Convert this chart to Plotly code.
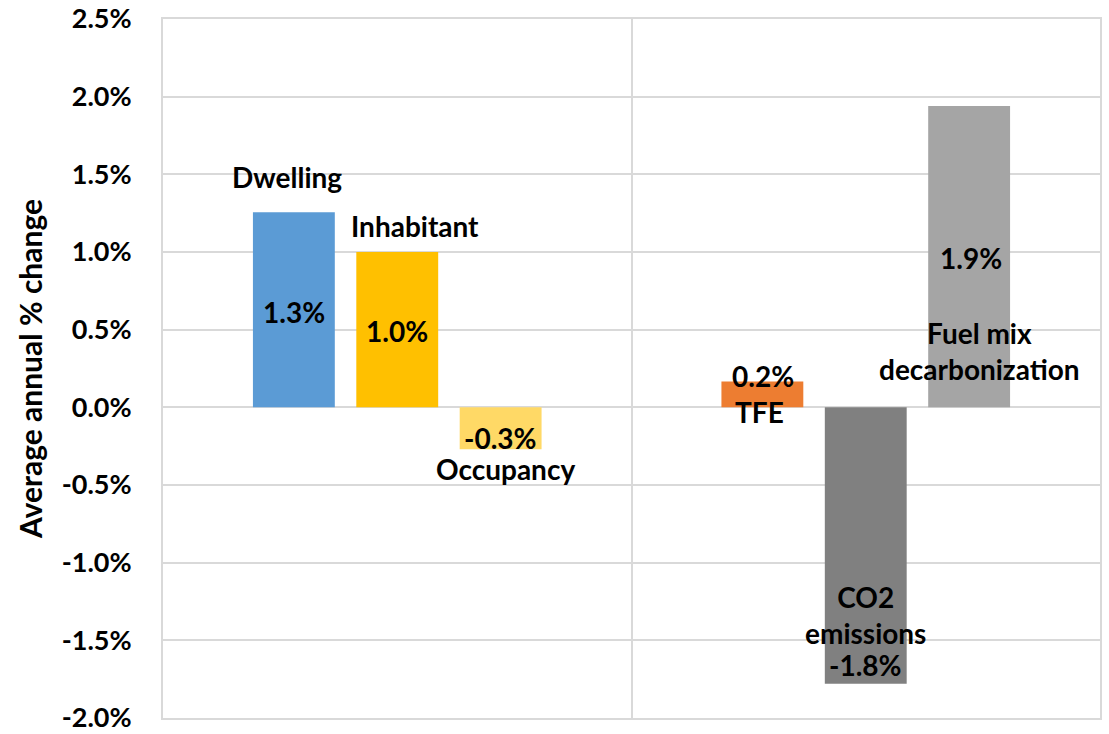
import plotly.graph_objects as go

# Data (fractions)
groups = ["Activity", "Emissions"]
series1 = [0.01256, 0.00167]   # Dwelling, TFE
series2 = [0.0100, -0.0178]    # Inhabitant, CO2 emissions
series3 = [-0.0027, 0.0194]    # Occupancy, Fuel mix decarbonization
colors1 = ["#5B9BD5", "#ED7D31"]
colors2 = ["#FFC000", "#808080"]
colors3 = ["#FFD966", "#A5A5A5"]
names1 = ["Dwelling", "TFE"]
names2 = ["Inhabitant", "CO2<br>emissions"]
names3 = ["Occupancy", "Fuel mix<br>decarbonization"]
tick_vals = [-0.02, -0.015, -0.01, -0.005, 0.0, 0.005, 0.01, 0.015, 0.02, 0.025]
tick_text = ["-2.0%", "-1.5%", "-1.0%", "-0.5%", "0.0%", "0.5%", "1.0%", "1.5%", "2.0%", "2.5%"]

FONT = "Lato"
fig = go.Figure()
for vals, cols in [(series1, colors1), (series2, colors2), (series3, colors3)]:
    fig.add_trace(go.Bar(x=groups, y=vals, marker=dict(color=cols, line=dict(width=0)),
                         showlegend=False, hoverinfo="skip"))

def pct(v):
    return f"{v*100:.1f}%"

# label placements (category-unit x, data y) — layout positions for text
lab = dict(size=28, color="black", family=FONT)
anns = [
    # value labels
    (-0.2207, 0.00615, pct(series1[0])),
    (0.0, 0.00494, pct(series2[0])),
    (0.22, -0.00199, pct(series3[0])),
    (0.780, 0.00199, pct(series1[1])),
    (1.0, -0.0166, pct(series2[1])),
    (1.224, 0.0096, pct(series3[1])),
    # name labels
    (-0.236, 0.0148, names1[0]),
    (0.037, 0.01167, names2[0]),
    (0.231, -0.00397, names3[0]),
    (0.774, -0.00032, names1[1]),
    (1.0, -0.0134, names2[1]),
    (1.243, 0.00365, names3[1]),
]
for x, y, t in anns:
    fig.add_annotation(x=x, y=y, xref="x", yref="y", text=f"<b>{t}</b>", showarrow=False,
                       font=lab, xanchor="center", yanchor="middle")

fig.update_layout(
    width=1109, height=734,
    margin=dict(l=163, r=9, t=19, b=16),
    paper_bgcolor="white", plot_bgcolor="white",
    barmode="group", bargap=0.338, bargroupgap=0.208,
    font=dict(family=FONT, color="black"),
    xaxis=dict(showticklabels=False, tickson="boundaries", showgrid=True, gridcolor="#D9D9D9",
               gridwidth=2, showline=True, linecolor="#D9D9D9", linewidth=2, mirror=True,
               ticks="", zeroline=False, range=[-0.5, 1.5], automargin=False),
    yaxis=dict(range=[-0.02, 0.025], tickvals=tick_vals, ticktext=tick_text, automargin=False,
               ticklabeloverflow="allow",
               tickfont=dict(size=27, family=FONT, color="black", weight="bold"),
               showgrid=True, gridcolor="#D9D9D9", gridwidth=2,
               showline=True, linecolor="#D9D9D9", linewidth=2, mirror=True,
               zeroline=True, zerolinecolor="#D9D9D9", zerolinewidth=2,
               ticks="outside", ticklen=24, tickcolor="rgba(0,0,0,0)",
               title=dict(text="<b>Average annual % change</b>", font=dict(size=30, family=FONT, color="black"),
                          standoff=10)),
)
fig.write_html("out.html", config={"displayModeBar": False},
               post_script="document.body.style.margin='0';")
